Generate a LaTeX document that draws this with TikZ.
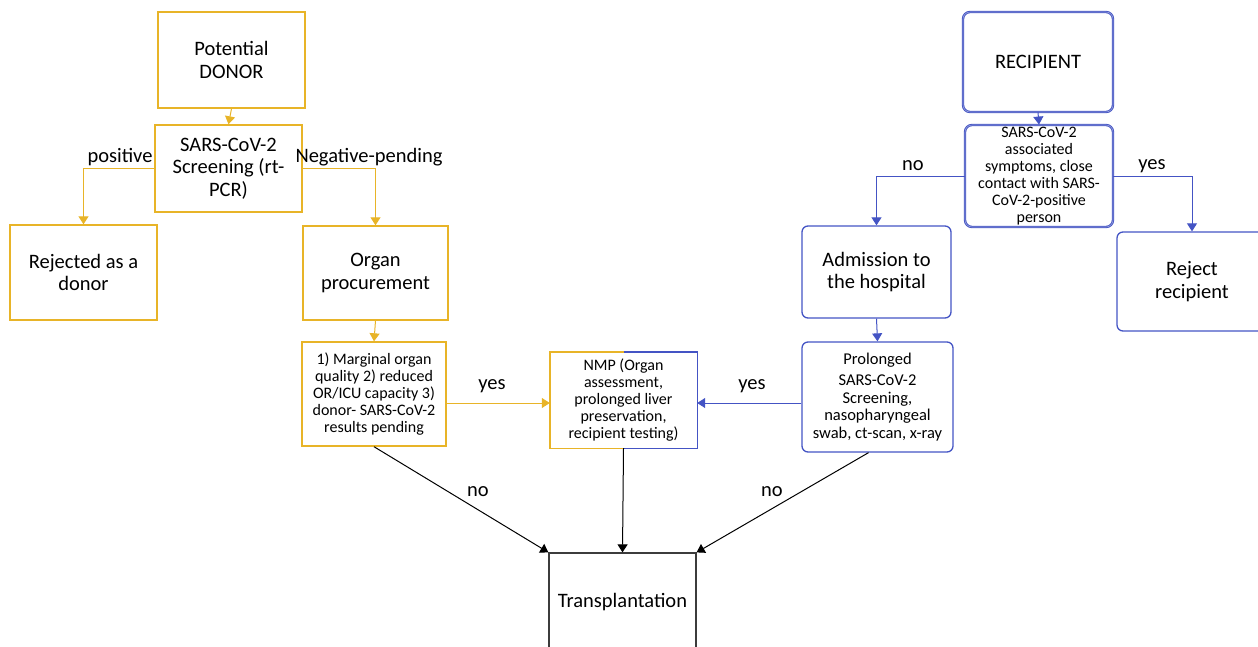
\documentclass[tikz,border=0pt]{standalone}
\usepackage{fontspec}
\setmainfont{Carlito}
\usetikzlibrary{arrows.meta,calc}
\definecolor{ygold}{RGB}{232,180,40}
\definecolor{rblue}{RGB}{68,84,196}
\definecolor{rblueL}{RGB}{150,160,220}
\definecolor{tgray}{RGB}{60,60,60}
\tikzset{
  big/.style={font=\fontsize{20.5}{22.5}\selectfont},
  small/.style={font=\fontsize{16}{17}\selectfont},
  ybox/.style={draw=ygold, line width=1.4pt, align=center, inner sep=1pt},
  bbox/.style={draw=rblue, line width=1.3pt, rounded corners=6pt, align=center, inner sep=1pt},
  dbox/.style={draw=rblue, double=rblueL, double distance=0.6pt, line width=0.9pt, rounded corners=7pt, align=center, inner sep=1pt},
  yarr/.style={draw=ygold, line width=1pt, -{Triangle[width=10pt,length=8pt]}},
  barr/.style={draw=rblue, line width=1pt, -{Triangle[width=10pt,length=8pt]}},
  karr/.style={draw=black, line width=1pt, -{Triangle[width=10pt,length=8pt]}},
  lbl/.style={font=\fontsize{20.5}{22.5}\selectfont, inner sep=0pt},
}
\begin{document}
\begin{tikzpicture}[x=1pt,y=-1pt]
\useasboundingbox (0,0) rectangle (1258,646);
\clip (0,0) rectangle (1258,646);
% donor side
\node[ybox,big,minimum width=147pt,minimum height=96pt] (donor) at (231.5,60) {Potential\\DONOR};
\node[ybox,big,minimum width=147pt,minimum height=87pt] (screen) at (228.5,168.5) {SARS-CoV-2\\Screening (rt-\\PCR)};
\node[ybox,big,minimum width=147pt,minimum height=95pt] (rejected) at (83.5,272.5) {Rejected as a\\donor};
\node[ybox,big,minimum width=145pt,minimum height=94pt] (organ) at (375.5,273) {Organ\\procurement};
\node[ybox,small,minimum width=144pt,minimum height=104pt] (marginal) at (374,394) {1) Marginal organ\\quality 2) reduced\\OR/ICU capacity 3)\\donor- SARS-CoV-2\\results pending};
% NMP box with split border
\node[small,align=center,inner sep=1pt,minimum width=147pt,minimum height=96pt] (nmp) at (623.5,400) {NMP (Organ\\assessment,\\prolonged liver\\preservation,\\recipient testing)};
\draw[ygold,line width=1.4pt] (nmp.north) -- (nmp.north west) -- (nmp.south west) -- (nmp.south);
\draw[rblue,line width=1.4pt] (nmp.north) -- (nmp.north east) -- (nmp.south east) -- (nmp.south);
% transplantation
\node[draw=tgray,line width=1.2pt,big,minimum width=147pt,minimum height=98pt] (trans) at (622.5,602) {Transplantation};
% recipient side
\node[dbox,big,minimum width=150pt,minimum height=100pt] (recipient) at (1038,62) {RECIPIENT};
\node[dbox,small,minimum width=148pt,minimum height=102pt] (symptoms) at (1039,176) {SARS-CoV-2\\associated\\symptoms, close\\contact with SARS-\\CoV-2-positive\\person};
\node[bbox,big,minimum width=149pt,minimum height=92pt] (admission) at (876.5,272) {Admission to\\the hospital};
\node[bbox,big,minimum width=150pt,minimum height=99pt] (reject) at (1192,281.5) {Reject\\recipient};
\node[bbox,font=\fontsize{16.5}{17.5}\selectfont,minimum width=151pt,minimum height=110pt] (prolonged) at (877.5,397) {Prolonged\\[4pt]SARS-CoV-2\\Screening,\\nasopharyngeal\\swab, ct-scan, x-ray};
% donor connectors
\draw[yarr] (donor.south) -- (screen.north);
\draw[yarr] (screen.west) -| (rejected.north);
\draw[yarr] (screen.east) -| (organ.north);
\draw[yarr] (organ.south) -- (marginal.north);
\draw[yarr] ([yshift=-3pt]marginal.east |- nmp.west) -- ([yshift=-3pt]nmp.west);
% recipient connectors
\draw[barr] (recipient.south) -- (symptoms.north);
\draw[barr] (symptoms.west) -| (admission.north);
\draw[barr] (symptoms.east) -| (reject.north);
\draw[barr] (admission.south) -- (prolonged.north);
\draw[barr] ([yshift=-6pt]prolonged.west) -- ([yshift=-6pt]prolonged.west -| nmp.east);
% to transplantation
\draw[karr] (marginal.south) -- (trans.north west);
\draw[karr] (nmp.south) -- (trans.north);
\draw[karr] ([xshift=-9pt]prolonged.south) -- (trans.north east);
% labels
\node[lbl] (lpos) at (120,157) {positive};
\node[lbl] (lneg) at (369,157) {Negative-pending};
\node[lbl] (lyes1) at (492,386) {yes};
\node[lbl] (lyes2) at (752,386) {yes};
\node[lbl] (lno1) at (913,166) {no};
\node[lbl] (lyes3) at (1152,166) {yes};
\node[lbl] (lno2) at (478,492) {no};
\node[lbl] (lno3) at (772,492) {no};
\end{tikzpicture}
\end{document}
